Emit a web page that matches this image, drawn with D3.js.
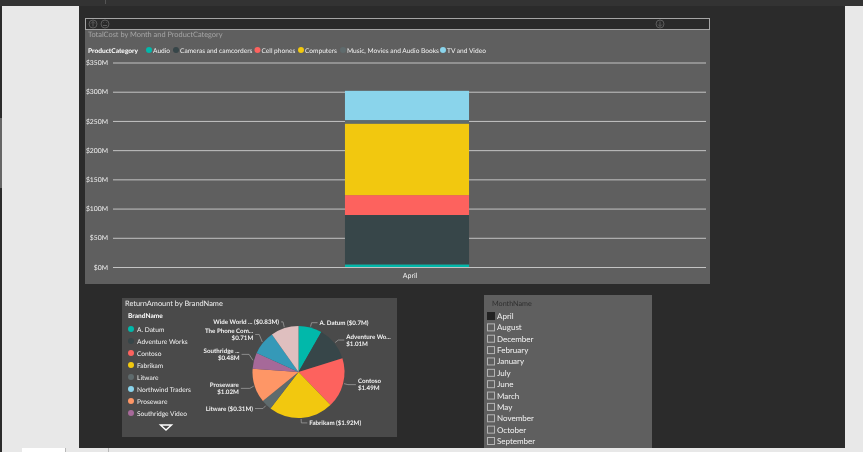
<!DOCTYPE html>
<html>
<head>
<meta charset="utf-8">
<script src="https://cdn.jsdelivr.net/npm/d3@7"></script>
<style>
  html, body { margin: 0; padding: 0; background: #2b2b2b; overflow: hidden; }
  svg { display: block; filter: blur(0.3px); }
  text { font-family: Lato, sans-serif; text-rendering: geometricPrecision; }
</style>
</head>
<body>
<div id="chart"></div>
<script>
// top chart
const months = ["April"];
const categories = ["Audio", "Cameras and camcorders", "Cell phones", "Computers", "Music, Movies and Audio Books", "TV and Video"];
const categoryColors = ["#01B8AA", "#374649", "#FD625E", "#F2C80F", "#5F6B6D", "#8AD4EB"];
const aprilCost = [4.5, 84.5, 34, 122.5, 6, 50];
const costTicks = [0, 50, 100, 150, 200, 250, 300, 350];

// pie chart
const brands = ["A. Datum", "Adventure Works", "Contoso", "Fabrikam", "Litware", "Northwind Traders", "Proseware", "Southridge Video", "The Phone Company", "Wide World Importers"];
const brandColors = ["#01B8AA", "#374649", "#FD625E", "#F2C80F", "#5F6B6D", "#8AD4EB", "#FE9666", "#A66999", "#3599B8", "#DFBFBF"];
const returnAmount = [0.7, 1.01, 1.49, 1.92, 0.31, 0, 1.02, 0.48, 0.71, 0.83];
const pieLabels = [["A. Datum ($0.7M)"], ["Adventure Wo...", "$1.01M"], ["Contoso", "$1.49M"], ["Fabrikam ($1.92M)"], ["Litware ($0.31M)"], null, ["Proseware", "$1.02M"], ["Southridge ...", "$0.48M"], ["The Phone Com...", "$0.71M"], ["Wide World ... ($0.83M)"]];
const legendBrands = brands.slice(0, 8);

// slicer
const monthNames = ["April", "August", "December", "February", "January", "July", "June", "March", "May", "November", "October", "September"];
const selectedMonth = "April";

const svg = d3.select("#chart").append("svg")
  .attr("width", 863)
  .attr("height", 452);

function box(x, y, w, h, fill) {
  return svg.append("rect").attr("x", x).attr("y", y).attr("width", w).attr("height", h).attr("fill", fill);
}

function label(x, y, str, size, fill) {
  return svg.append("text").attr("x", x).attr("y", y).attr("font-size", size).attr("fill", fill).text(str);
}

// window chrome
box(0, 0, 863, 452, "#2b2b2b");
box(0, 0, 863, 6, "#333333");
box(2, 6, 77, 446, "#e8e8e8");
box(845, 6, 18, 446, "#e8e8e8");
box(2, 448, 861, 4, "#e8e8e8");
box(22, 448, 43, 4, "#ffffff");
box(65, 448, 1, 4, "#b8b8b8");
box(108, 448, 1, 4, "#b8b8b8");
box(0, 118, 2, 70, "#666666");
box(105, 0, 1, 4, "#555555");

// top visual
box(85, 18, 625, 266, "#5f5f5f");
box(85, 18, 625, 11, "#2a2a2a");
svg.append("rect").attr("x", 85.5).attr("y", 18.5).attr("width", 624).attr("height", 11)
  .attr("fill", "none").attr("stroke", "#a5a5a5");

[[93, "up"], [105, "smile"], [660, "down"]].forEach(([cx, kind]) => {
  svg.append("circle").attr("cx", cx).attr("cy", 24).attr("r", 4).attr("fill", "none").attr("stroke", "#5c5c5c");
  let d = "M" + cx + " 21.5V26.5";
  if (kind == "up") d += "M" + (cx - 2) + " 23.5L" + cx + " 21.5L" + (cx + 2) + " 23.5";
  if (kind == "down") d += "M" + (cx - 2) + " 24.5L" + cx + " 26.5L" + (cx + 2) + " 24.5";
  if (kind == "smile") d = "M" + (cx - 2) + " 25.5H" + (cx + 2) + "M" + (cx - 1.5) + " 23V22.5M" + (cx + 1.5) + " 23V22.5";
  svg.append("path").attr("d", d).attr("fill", "none").attr("stroke", "#5c5c5c");
});

label(88, 37, "TotalCost by Month and ProductCategory", 7.4, "#a6a6a6");
label(88, 52.5, "ProductCategory", 6.6, "#ffffff").attr("font-weight", 700);

const legendX = [149, 176, 257.5, 301, 343, 443];
categories.forEach((c, i) => {
  svg.append("circle").attr("cx", legendX[i]).attr("cy", 50).attr("r", 3).attr("fill", categoryColors[i]);
  label(legendX[i] + 4, 52.5, c, 6.6, "#f2f2f2");
});

const y = d3.scaleLinear().domain([0, 350]).range([267, 62.5]);
const x = d3.scaleBand().domain(months).range([108, 706]).paddingOuter(1.91).paddingInner(0);

const yAxis = svg.append("g")
  .attr("transform", "translate(113,0)")
  .call(d3.axisLeft(y).tickValues(costTicks).tickFormat(d => "$" + d + "M").tickSize(-593).tickPadding(5));
yAxis.select(".domain").remove();
yAxis.selectAll("line").attr("stroke", "#c4c4c4");
yAxis.selectAll("text").attr("font-size", 6.8).attr("fill", "#f2f2f2").attr("font-family", "Lato, sans-serif");

const series = d3.stack().keys(categories)([Object.fromEntries(categories.map((c, i) => [c, aprilCost[i]]))]);
svg.append("g").selectAll("rect")
  .data(series)
  .join("rect")
    .attr("x", x("April"))
    .attr("width", x.bandwidth())
    .attr("y", d => y(d[0][1]))
    .attr("height", d => y(d[0][0]) - y(d[0][1]))
    .attr("fill", (d, i) => categoryColors[i]);

const xAxis = svg.append("g")
  .attr("transform", "translate(3,267)")
  .call(d3.axisBottom(x).tickSize(0).tickPadding(6));
xAxis.select(".domain").remove();
xAxis.selectAll("text").attr("font-size", 7).attr("fill", "#f2f2f2").attr("font-family", "Lato, sans-serif");

// pie visual
box(122, 298, 275, 139, "#4a4a4a");
label(125, 306, "ReturnAmount by BrandName", 7.4, "#f2f2f2");
label(128, 317.5, "BrandName", 6.6, "#ffffff").attr("font-weight", 700);

const legendY = d3.scalePoint().domain(legendBrands).range([329, 413]);
legendBrands.forEach((b, i) => {
  svg.append("circle").attr("cx", 131).attr("cy", legendY(b)).attr("r", 3).attr("fill", brandColors[i]);
  label(137, legendY(b) + 2.5, b, 6.6, "#f2f2f2");
});
svg.append("path").attr("d", "M160.5 425H171.5L166 430Z").attr("fill", "#4a4a4a").attr("stroke", "#ffffff").attr("stroke-width", 1.4);

const radius = 46;
const pieG = svg.append("g").attr("transform", "translate(298.5,372)");
const arcs = d3.pie().sort(null).value(d => d)(returnAmount);
const arc = d3.arc().innerRadius(0).outerRadius(radius);
pieG.selectAll("path")
  .data(arcs)
  .join("path")
    .attr("d", arc)
    .attr("fill", (d, i) => brandColors[i]);

// small nudges so the labels sit where the report put them
const labelShift = { 2: [2, 0], 4: [-2, 0], 6: [-3, 1], 7: [-1.5, -5], 8: [2, -5], 9: [4, -1.5] };

arcs.forEach((a, i) => {
  if (!pieLabels[i]) return;
  const mid = (a.startAngle + a.endAngle) / 2;
  const sx = Math.sin(mid), cy = -Math.cos(mid);
  const side = sx >= 0 ? 1 : -1;
  const [dx, dy] = labelShift[i] || [0, 0];
  const ex = sx * (radius + 5), ey = cy * (radius + 5) + dy;
  pieG.append("path")
    .attr("d", "M" + sx * (radius + 1) + " " + cy * (radius + 1) + "L" + ex + " " + ey + "H" + (ex + side * 6 + dx))
    .attr("fill", "none").attr("stroke", "#a8a8a8").attr("stroke-width", 0.7);
  const lines = pieLabels[i];
  lines.forEach((t, k) => {
    pieG.append("text")
      .attr("x", ex + side * 8 + dx)
      .attr("y", ey + 2.2 + (k - (lines.length - 1) / 2) * 7)
      .attr("text-anchor", side > 0 ? "start" : "end")
      .attr("font-size", 6.2).attr("font-weight", 700).attr("fill", "#f2f2f2")
      .text(t);
  });
});

// month slicer
box(484, 295, 168, 153, "#5f5f5f");
label(492, 306, "MonthName", 7.2, "#2e2e2e");
const rowY = d3.scalePoint().domain(monthNames).range([316, 441]);
monthNames.forEach(m => {
  svg.append("rect").attr("x", 487.5).attr("y", rowY(m) - 3.5).attr("width", 7).attr("height", 7)
    .attr("fill", m == selectedMonth ? "#222222" : "none")
    .attr("stroke", m == selectedMonth ? "#222222" : "#b4b4b4");
  label(497, rowY(m) + 3, m, 8, "#f2f2f2");
});
</script>
</body>
</html>
